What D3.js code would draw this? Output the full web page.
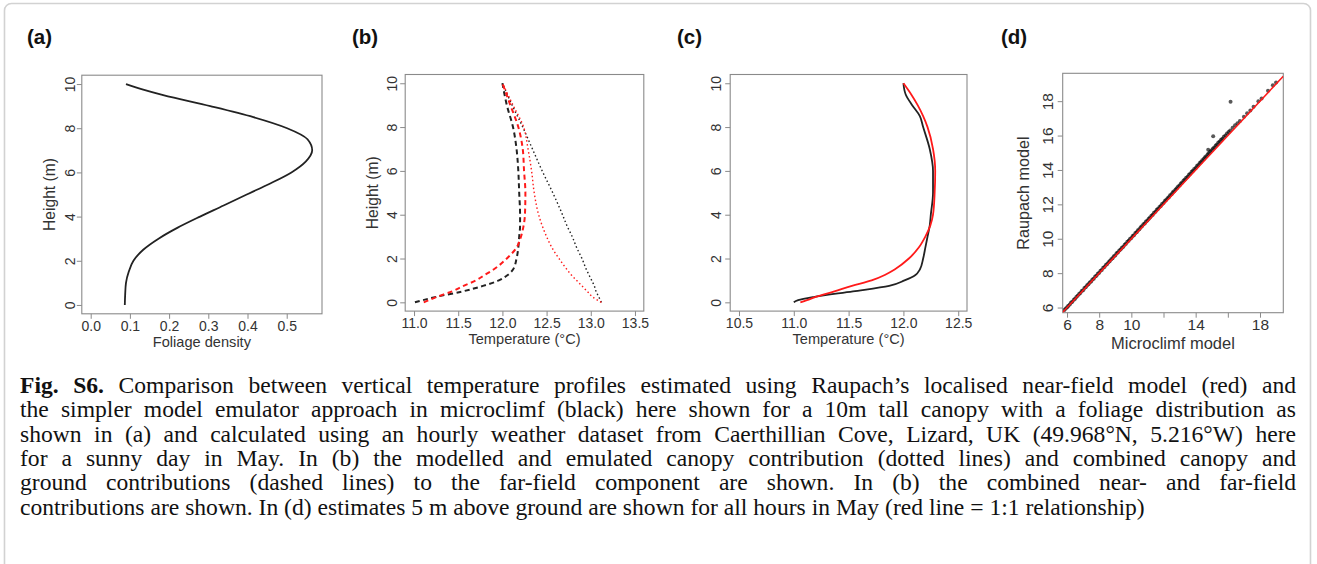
<!DOCTYPE html>
<html>
<head>
<meta charset="utf-8">
<script src="https://cdn.jsdelivr.net/npm/d3@7"></script>
<style>
  body { margin: 0; background: #fff; }
</style>
</head>
<body>
<svg id="fig" width="1317" height="564"></svg>
<script>
// ---- (a) foliage density profile ----
const heightA = [0, 0.5, 1, 1.5, 2, 2.5, 3, 3.5, 4, 4.5, 5, 5.5, 6, 6.5, 7, 7.5, 8, 8.5, 9, 9.5, 9.75, 10];
const foliageDensity = [0.087, 0.088, 0.090, 0.097, 0.109, 0.134, 0.173, 0.222, 0.279, 0.339, 0.398, 0.458,
                        0.512, 0.549, 0.565, 0.553, 0.501, 0.415, 0.305, 0.185, 0.134, 0.090];

// ---- (b) far-field components ----
const heightB = [0, 0.25, 0.5, 0.75, 1, 1.25, 1.5, 2, 2.5, 3, 3.5, 4, 5, 6, 7, 8, 9, 10];
const canopyRaupach   = [13.12, 13.02, 12.96, 12.90, 12.84, 12.78, 12.73, 12.64, 12.56, 12.50, 12.45, 12.41, 12.36, 12.33, 12.29, 12.24, 12.12, 12.0];
const canopyEmulator  = [13.12, 13.09, 13.06, 13.04, 13.01, 12.98, 12.95, 12.90, 12.84, 12.79, 12.73, 12.68, 12.57, 12.45, 12.34, 12.23, 12.11, 12.0];
const groundRaupach   = [11.11, 11.26, 11.43, 11.56, 11.70, 11.80, 11.90, 12.05, 12.16, 12.21, 12.24, 12.255, 12.26, 12.245, 12.23, 12.18, 12.09, 12.0];
const groundEmulator  = [11.01, 11.25, 11.55, 11.78, 11.96, 12.06, 12.12, 12.16, 12.18, 12.19, 12.20, 12.20, 12.19, 12.18, 12.16, 12.12, 12.05, 12.0];

// ---- (c) combined near- and far-field ----
const heightC = [0, 0.1, 0.25, 0.5, 0.75, 1, 1.25, 1.5, 2, 2.5, 3, 3.5, 4, 5, 6, 7, 8, 8.5, 9, 9.5, 10];
const totalRaupach  = [11.06, 11.12, 11.20, 11.37, 11.53, 11.71, 11.83, 11.92, 12.05, 12.14, 12.20, 12.245, 12.27, 12.285, 12.29, 12.27, 12.22, 12.18, 12.13, 12.07, 12.0];
const totalEmulator = [11.0, 11.04, 11.19, 11.54, 11.87, 12.01, 12.11, 12.15, 12.18, 12.20, 12.22, 12.24, 12.25, 12.27, 12.27, 12.24, 12.18, 12.15, 12.08, 12.02, 12.0];

// ---- (d) temperature 5 m above ground, hourly, May: [microclimf, Raupach] ----
const hourly5m = [
  [5.84,5.86],[5.92,5.95],[6.01,6.02],[6.08,6.11],[6.17,6.18],[6.25,6.29],[6.33,6.34],[6.42,6.46],[6.5,6.51],[6.58,6.62],
  [6.66,6.68],[6.75,6.79],[6.83,6.84],[6.91,6.96],[7.0,7.01],[7.08,7.13],[7.16,7.18],[7.25,7.29],[7.33,7.35],[7.41,7.46],
  [7.5,7.52],[7.58,7.63],[7.66,7.68],[7.75,7.8],[7.83,7.85],[7.91,7.97],[8.0,8.02],[8.08,8.14],[8.16,8.19],[8.25,8.31],
  [8.33,8.36],[8.41,8.47],[8.5,8.53],[8.58,8.64],[8.66,8.7],[8.75,8.81],[8.83,8.86],[8.91,8.98],[9.0,9.03],[9.08,9.15],
  [9.16,9.2],[9.25,9.32],[9.33,9.37],[9.41,9.48],[9.5,9.54],[9.58,9.65],[9.66,9.71],[9.75,9.82],[9.83,9.88],[9.91,9.99],
  [10.0,10.04],[10.08,10.16],[10.16,10.21],[10.25,10.33],[10.33,10.38],[10.41,10.5],[10.5,10.55],[10.58,10.67],[10.66,10.72],[10.75,10.84],
  [10.83,10.89],[10.91,11.0],[11.0,11.06],[11.08,11.17],[11.16,11.23],[11.25,11.34],[11.33,11.4],[11.41,11.51],[11.5,11.57],[11.58,11.68],
  [11.66,11.74],[11.75,11.85],[11.83,11.91],[11.91,12.02],[12.0,12.08],[12.08,12.19],[12.16,12.25],[12.25,12.36],[12.33,12.42],[12.41,12.53],
  [12.5,12.59],[12.58,12.7],[12.66,12.76],[12.75,12.87],[12.83,12.93],[12.91,13.04],[13.0,13.1],[13.08,13.21],[13.16,13.27],[13.25,13.38],
  [13.33,13.44],[13.41,13.55],[13.5,13.61],[13.58,13.72],[13.66,13.78],[13.75,13.89],[13.83,13.95],[13.91,14.06],[14.0,14.12],[14.08,14.23],
  [14.16,14.29],[14.25,14.4],[14.33,14.46],[14.41,14.57],[14.5,14.63],[14.58,14.74],[14.66,14.8],[14.75,14.91],[14.83,14.97],[14.91,15.08],
  [15.0,15.14],[15.08,15.25],[15.16,15.31],[15.25,15.42],[15.33,15.48],[15.41,15.59],[15.5,15.65],[15.58,15.76],[15.66,15.82],[15.75,15.93],
  [15.85,16.0],[15.95,16.12],[16.05,16.2],[16.15,16.3],[16.3,16.45],[16.45,16.6],[16.6,16.72],[16.75,16.84],[17.0,17.1],[17.2,17.3],
  [17.4,17.46],[17.6,17.68],[17.9,18.0],[18.1,18.16],[18.5,18.6],[18.8,18.92],[19.0,19.08],[16.17,17.96],[15.09,15.96],[14.78,15.18]
];

// ---- tick values and labels ----
const heightTicks = [0, 2, 4, 6, 8, 10];
const foliageTicks = [0, 0.1, 0.2, 0.3, 0.4, 0.5];
const foliageTickLabels = ["0.0", "0.1", "0.2", "0.3", "0.4", "0.5"];
const tempTicksB = [11, 11.5, 12, 12.5, 13, 13.5];
const tempTickLabelsB = ["11.0", "11.5", "12.0", "12.5", "13.0", "13.5"];
const tempTicksC = [10.5, 11, 11.5, 12, 12.5];
const tempTickLabelsC = ["10.5", "11.0", "11.5", "12.0", "12.5"];
const scatterTicks = [6, 8, 10, 12, 14, 16, 18];
const scatterXTickLabels = ["6", "8", "10", "", "14", "", "18"];
const scatterYTickLabels = ["6", "8", "10", "12", "14", "16", "18"];

const captionLines = [
  "Fig. S6. Comparison between vertical temperature profiles estimated using Raupach\u2019s localised near-field model (red) and",
  "the simpler model emulator approach in microclimf (black) here shown for a 10m tall canopy with a foliage distribution as",
  "shown in (a) and calculated using an hourly weather dataset from Caerthillian Cove, Lizard, UK (49.968\u00B0N, 5.216\u00B0W) here",
  "for a sunny day in May. In (b) the modelled and emulated canopy contribution (dotted lines) and combined canopy and",
  "ground contributions (dashed lines) to the far-field component are shown. In (b) the combined near- and far-field",
  "contributions are shown. In (d) estimates 5 m above ground are shown for all hours in May (red line = 1:1 relationship)"
];

// ------------------------------------------------------------------
const svg = d3.select("#fig");
const SANS = "'Liberation Sans', Arial, Helvetica, sans-serif";
const SERIF = "'Liberation Serif', 'Times New Roman', serif";
const RED = "#ff1a1a";
const INK = "#222";

// outer frame of the figure card
svg.append("rect")
  .attr("x", 4.5).attr("y", 3.5).attr("width", 1306).attr("height", 600)
  .attr("rx", 7).attr("fill", "none").attr("stroke", "#d2d2d2").attr("stroke-width", 1.6);

function panel(p) {
  const g = svg.append("g");
  const x = d3.scaleLinear().domain(p.xDomain).range([p.left, p.right]);
  const y = d3.scaleLinear().domain(p.yDomain).range([p.bottom, p.top]);

  const clipId = "clip-" + p.tag;
  g.append("clipPath").attr("id", clipId).append("rect")
    .attr("x", p.left).attr("y", p.top).attr("width", p.right - p.left).attr("height", p.bottom - p.top);

  // x axis
  const xa = g.append("g").attr("transform", `translate(0,${p.bottom})`)
    .call(d3.axisBottom(x).tickValues(p.xTicks).tickFormat((d, i) => p.xLabels[i]).tickSize(5).tickSizeOuter(0));
  // y axis
  const ya = g.append("g").attr("transform", `translate(${p.left},0)`)
    .call(d3.axisLeft(y).tickValues(p.yTicks).tickFormat((d, i) => p.yLabels[i]).tickSize(5).tickSizeOuter(0));
  [xa, ya].forEach(a => {
    a.attr("font-family", SANS).attr("font-size", p.tickSize);
    a.select(".domain").remove();
    a.selectAll(".tick line").attr("stroke", "#8a8a8a").attr("stroke-width", 1);
    a.selectAll(".tick text").attr("fill", "#333");
  });
  xa.selectAll(".tick text").attr("y", p.xLabelGap).attr("dy", 0);
  ya.selectAll(".tick text")
    .attr("transform", "rotate(-90)")
    .attr("x", 0).attr("y", -p.yLabelGap).attr("dy", 0)
    .attr("text-anchor", "middle");

  // plot box
  g.append("rect")
    .attr("x", p.left).attr("y", p.top)
    .attr("width", p.right - p.left).attr("height", p.bottom - p.top)
    .attr("fill", "none").attr("stroke", "#8a8a8a").attr("stroke-width", 1.1);

  // axis titles
  g.append("text")
    .attr("x", (p.left + p.right) / 2).attr("y", p.bottom + p.xTitleGap)
    .attr("text-anchor", "middle").attr("font-family", SANS).attr("font-size", p.xTitleSize).attr("fill", "#333")
    .text(p.xTitle);
  if (p.yTitle) {
    g.append("text")
      .attr("transform", `translate(${p.left - p.yTitleGap},${(p.top + p.bottom) / 2}) rotate(-90)`)
      .attr("text-anchor", "middle").attr("font-family", SANS).attr("font-size", p.yTitleSize).attr("fill", "#333")
      .text(p.yTitle);
  }
  // panel tag
  svg.append("text")
    .attr("x", p.tagX).attr("y", 44)
    .attr("font-family", SANS).attr("font-weight", "bold").attr("font-size", 20.5).attr("fill", "#111")
    .text("(" + p.tag + ")");

  const plot = g.append("g").attr("clip-path", `url(#${clipId})`);
  return { x, y, plot };
}

function profile(target, heights, values, color, dash, width) {
  const line = d3.line()
    .x((d, i) => target.x(values[i]))
    .y(d => target.y(d))
    .curve(d3.curveMonotoneY);
  target.plot.append("path")
    .attr("d", line(heights))
    .attr("fill", "none")
    .attr("stroke", color)
    .attr("stroke-width", width)
    .attr("stroke-dasharray", dash)
    .attr("stroke-linejoin", "round");
}

const textStyle = { tickSize: 14, xTitleSize: 14.6, yTitleSize: 15.6, xLabelGap: 17, xTitleGap: 33 };

// (a)
const pa = panel(Object.assign({
  tag: "a", tagX: 27,
  left: 81.8, right: 322, top: 75.2, bottom: 313.8,
  xDomain: [-0.0227, 0.59], yDomain: [-0.4, 10.4],
  xTicks: foliageTicks, xLabels: foliageTickLabels,
  yTicks: heightTicks, yLabels: heightTicks.map(String),
  xTitle: "Foliage density", yTitle: "Height (m)",
  yLabelGap: 7, yTitleGap: 27
}, textStyle));
profile(pa, heightA, foliageDensity, INK, null, 1.8);

// (b)
const pb = panel(Object.assign({
  tag: "b", tagX: 352,
  left: 405.2, right: 643.8, top: 74.5, bottom: 311.1,
  xDomain: [10.9, 13.6], yDomain: [-0.4, 10.4],
  xTicks: tempTicksB, xLabels: tempTickLabelsB,
  yTicks: heightTicks, yLabels: heightTicks.map(String),
  xTitle: "Temperature (\u00B0C)", yTitle: "Height (m)",
  yLabelGap: 8, yTitleGap: 27
}, textStyle));
profile(pb, heightB, canopyEmulator, INK, "1.5,2.5", 1.4);
profile(pb, heightB, canopyRaupach, RED, "1.5,2.5", 1.4);
profile(pb, heightB, groundEmulator, INK, "5,3.5", 2);
profile(pb, heightB, groundRaupach, RED, "5,3.5", 2);

// (c)
const pc = panel(Object.assign({
  tag: "c", tagX: 677,
  left: 730.2, right: 967, top: 74.5, bottom: 311.1,
  xDomain: [10.42, 12.58], yDomain: [-0.4, 10.4],
  xTicks: tempTicksC, xLabels: tempTickLabelsC,
  yTicks: heightTicks, yLabels: heightTicks.map(String),
  xTitle: "Temperature (\u00B0C)", yTitle: null,
  yLabelGap: 9, yTitleGap: 27
}, textStyle));
profile(pc, heightC, totalEmulator, INK, null, 1.8);
profile(pc, heightC, totalRaupach, RED, null, 1.8);

// (d)
const pd = panel({
  tag: "d", tagX: 1001,
  left: 1062.7, right: 1283.3, top: 73.3, bottom: 312.7,
  xDomain: [5.73, 19.45], yDomain: [5.70, 19.62],
  xTicks: scatterTicks, xLabels: scatterXTickLabels,
  yTicks: scatterTicks, yLabels: scatterYTickLabels,
  xTitle: "Microclimf model", yTitle: "Raupach model",
  tickSize: 15.5, xTitleSize: 16.5, yTitleSize: 16.2, xLabelGap: 17.5, xTitleGap: 36,
  yLabelGap: 10, yTitleGap: 34
});
pd.plot.selectAll("circle").data(hourly5m).join("circle")
  .attr("cx", d => pd.x(d[0]))
  .attr("cy", d => pd.y(d[1]))
  .attr("r", 2)
  .attr("fill", "#000")
  .attr("fill-opacity", 0.65);
// 1:1 reference line
const lo = pd.x.domain()[0], hi = pd.x.domain()[1];
pd.plot.append("line")
  .attr("x1", pd.x(lo)).attr("y1", pd.y(lo))
  .attr("x2", pd.x(hi)).attr("y2", pd.y(hi))
  .attr("stroke", RED).attr("stroke-width", 1.6);

// ---- caption, justified except for the last line ----
const capSize = 23.6, capLeft = 20, capRight = 1296, capTop = 393, capLead = 24.3;
const cap = svg.append("g").attr("font-family", SERIF).attr("font-size", capSize).attr("fill", "#111");
captionLines.forEach((line, i) => {
  const words = line.split(" ");
  const t = cap.append("text").attr("y", capTop + i * capLead);
  const spans = words.map((w, j) => t.append("tspan").text(w)
    .attr("font-weight", (i === 0 && j < 2) ? "bold" : null));
  const widths = spans.map(s => s.node().getComputedTextLength());
  const total = d3.sum(widths);
  const last = i === captionLines.length - 1;
  const gap = last ? capSize * 0.25 : (capRight - capLeft - total) / (words.length - 1);
  let cx = capLeft;
  spans.forEach((s, j) => { s.attr("x", cx); cx += widths[j] + gap; });
});
</script>
</body>
</html>
